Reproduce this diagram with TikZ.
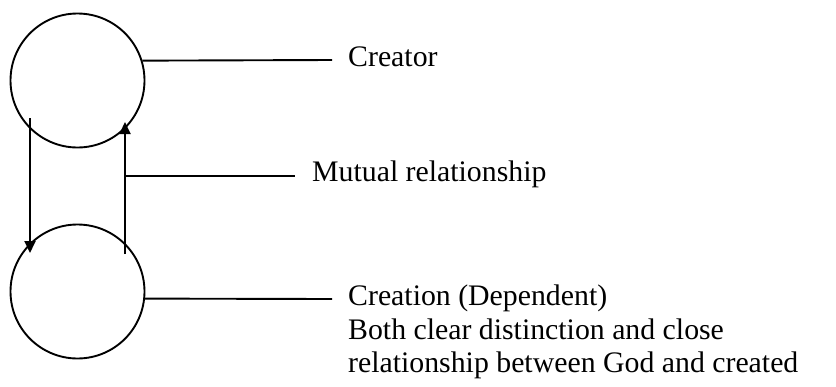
\documentclass[tikz,border=0pt]{standalone}
\usepackage{fontspec}
\setmainfont{Liberation Serif}
\usetikzlibrary{arrows.meta}
\begin{document}
\begin{tikzpicture}[x=1pt,y=-1pt,
  ring/.style={circle,draw,line width=1.9pt,minimum size=134pt,inner sep=0pt},
  lead/.style={line width=1.9pt},
  link/.style={line width=1.9pt,-{Triangle[length=12pt,width=11pt]}},
  lbl/.style={font=\fontsize{29.8}{33.5}\selectfont,inner sep=0pt,align=left}]
\useasboundingbox (0,0) rectangle (836,386);
\node[ring] (top) at (77.5,80.5) {};
\node[ring] (bot) at (77.5,291.5) {};
% arrows
\coordinate (a1) at (30,118);
\coordinate (a2) at (30,253);
\coordinate (b1) at (125,254);
\coordinate (b2) at (125,122);
\draw[link] (a1) -- (a2);
\draw[link] (b1) -- (b2);
% labels
\node[lbl,anchor=west] (creator) at (348,57) {Creator};
\node[lbl,anchor=west] (mutual) at (312,174) {Mutual relationship};
\node[lbl,anchor=north west] (creation) at (348,285) {Creation (Dependent)\\Both clear distinction and close\\relationship between God and created};
% leader lines
\coordinate (c1) at (332,60);
\coordinate (m0) at (125,176);
\coordinate (m1) at (295,176);
\coordinate (d1) at (332,299);
\draw[lead] (top.17.8) -- (c1);
\draw[lead] (m0) -- (m1);
\draw[lead] (bot.-6.4) -- (d1);
\end{tikzpicture}
\end{document}
